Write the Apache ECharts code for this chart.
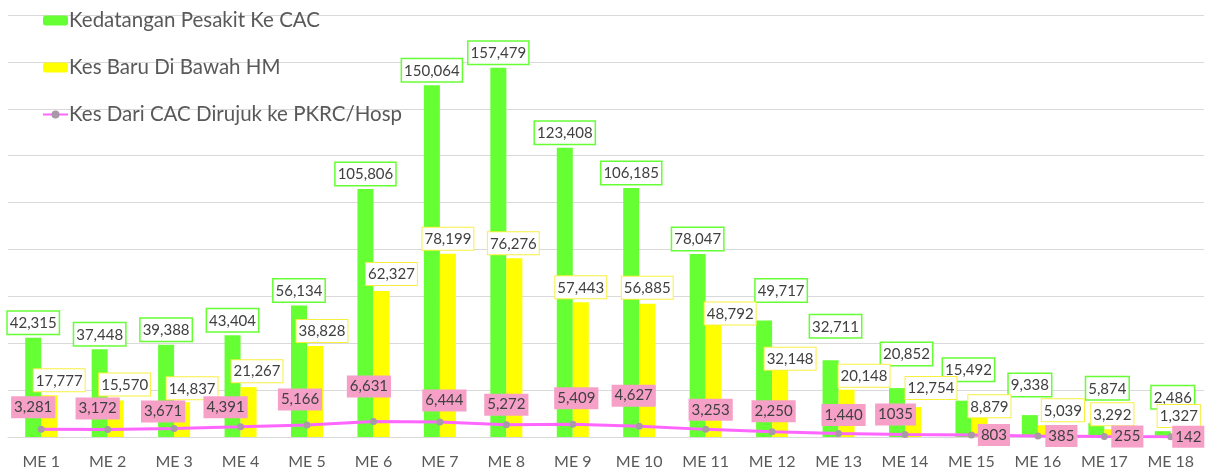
<!DOCTYPE html>
<html><head><meta charset="utf-8">
<script src="https://cdn.jsdelivr.net/npm/echarts@6/dist/echarts.min.js"></script>
<style>html,body{margin:0;padding:0;background:#fff}#c{width:1211px;height:473px}</style>
</head><body><div id="c"></div>
<script>
// ---- data ----
const categories = ['ME 1','ME 2','ME 3','ME 4','ME 5','ME 6','ME 7','ME 8','ME 9','ME 10','ME 11','ME 12','ME 13','ME 14','ME 15','ME 16','ME 17','ME 18'];
const seriesNames = ['Kedatangan Pesakit Ke CAC','Kes Baru Di Bawah HM','Kes Dari CAC Dirujuk ke PKRC/Hosp'];
const attendance = [42315,37448,39388,43404,56134,105806,150064,157479,123408,106185,78047,49717,32711,20852,15492,9338,5874,2486];
const newCases = [17777,15570,14837,21267,38828,62327,78199,76276,57443,56885,48792,32148,20148,12754,8879,5039,3292,1327];
const referrals = [3281,3172,3671,4391,5166,6631,6444,5272,5409,4627,3253,2250,1440,1035,803,385,255,142];
const referralLabels = ['3,281','3,172','3,671','4,391','5,166','6,631','6,444','5,272','5,409','4,627','3,253','2,250','1,440','1035','803','385','255','142'];
const yMin = 0, yMax = 180000, yInterval = 20000;

// ---- label nudges (style only) ----
const greenDx = [0,0,0,0,0,0,0,0,0,0,0,17,5,9.5,5,0,11,10];
const greenDy = [0,0,0,0,0,0,0,0,0,0,0,-15,-19,-19,-16,-15,-20,-19];
const yellowDx = [10,9,10,8.5,7,10,0,-1,0,0,16.5,10,17.5,18,10,17,0,0];
const yellowDy = [0,-1,1,-1,0,-2,0,0,0,-1,6,12,1,-4,5,0,0,-3];
const pinkDx = [-8,-10,-11,-15,-7,-4.5,4.5,0,3.5,-5.5,5,1.5,5,-9.5,22.5,23.5,23,17.5];
const pinkDy = [-22,-21,-17,-19.5,-25.5,-35,-21.5,-20,-26,-30.5,-19.5,-20.5,-18.5,-20,0,0,0,0];

const FONT = 'Lato, "Open Sans", sans-serif';
const fmt = v => v.toLocaleString('en-US');

const chart = echarts.init(document.getElementById('c'), null, {renderer:'canvas'});
chart.setOption({
  animation: false,
  backgroundColor: '#ffffff',
  textStyle: {fontFamily: FONT},
  grid: {left: 8, right: 7, top: 15, bottom: 36, containLabel: false},
  legend: {
    orient: 'vertical', left: 42, top: 10, itemGap: 26, padding: 0,
    itemWidth: 25, itemHeight: 10,
    textStyle: {color: '#595959', fontSize: 20.5, fontFamily: FONT, lineHeight: 20, padding: [0, 0, 0, -4]},
    data: seriesNames
  },
  xAxis: {
    type: 'category', data: categories,
    axisLine: {lineStyle: {color: '#d9d9d9', width: 1}},
    axisTick: {show: false},
    axisLabel: {color: '#595959', fontSize: 16, margin: 17, fontFamily: FONT}
  },
  yAxis: {
    type: 'value', min: yMin, max: yMax, interval: yInterval,
    axisLabel: {show: false}, axisLine: {show: false}, axisTick: {show: false},
    splitLine: {lineStyle: {color: '#d9d9d9', width: 1}}
  },
  series: [
    {
      name: seriesNames[0], type: 'bar', barWidth: 16, barGap: '0%',
      itemStyle: {color: '#66ff33'},
      label: {show: true, position: 'top', distance: 4, color: '#404040', fontSize: 15, fontFamily: FONT,
        backgroundColor: '#ffffff', borderColor: '#66ff33', borderWidth: 1.5, padding: [4, 2, 3, 2],
        formatter: p => fmt(p.value)},
      data: attendance.map((v, i) => ({value: v, label: {offset: [greenDx[i], greenDy[i]]}}))
    },
    {
      name: seriesNames[1], type: 'bar', barWidth: 16,
      itemStyle: {color: '#ffff00'},
      label: {show: true, position: 'top', distance: 4, color: '#404040', fontSize: 15, fontFamily: FONT,
        backgroundColor: '#ffffff', borderColor: '#f8f040', borderWidth: 1, padding: [4, 2, 3, 2],
        formatter: p => fmt(p.value)},
      data: newCases.map((v, i) => ({value: v, label: {offset: [yellowDx[i], yellowDy[i]]}}))
    },
    {
      name: seriesNames[2], type: 'line', z: 5,
      symbol: 'circle', symbolSize: 7,
      itemStyle: {color: '#a898a8'},
      lineStyle: {color: '#ff66ff', width: 3},
      label: {show: true, position: 'inside', color: '#404040', fontSize: 15, fontFamily: FONT,
        backgroundColor: '#f6a0c8', padding: [4, 3, 3, 3],
        formatter: p => referralLabels[p.dataIndex]},
      labelLayout: p => ({dx: pinkDx[p.dataIndex], dy: pinkDy[p.dataIndex]}),
      data: referrals
    }
  ]
});
</script>
</body></html>
